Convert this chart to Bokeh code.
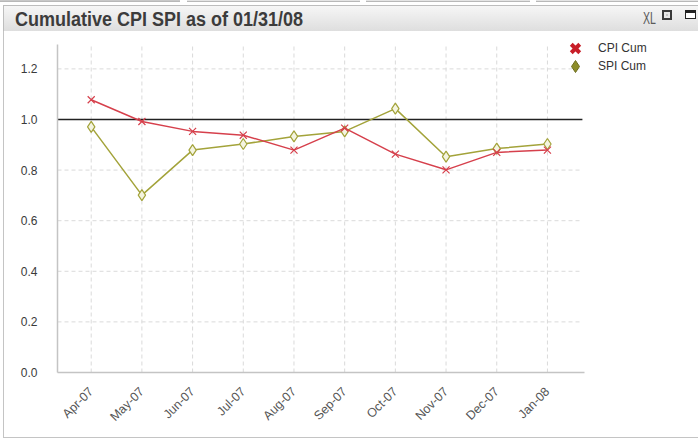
import math
from bokeh.plotting import figure
from bokeh.models import (ColumnDataSource, Range1d, FixedTicker, Legend, LegendItem, Div)
from bokeh.layouts import column
from bokeh.embed import file_html
from bokeh.resources import INLINE

# ---- data ----
months = ["Apr-07", "May-07", "Jun-07", "Jul-07", "Aug-07", "Sep-07", "Oct-07", "Nov-07", "Dec-07", "Jan-08"]
cpi_cum = [1.078, 0.992, 0.953, 0.938, 0.879, 0.966, 0.863, 0.801, 0.870, 0.879]
spi_cum = [0.971, 0.701, 0.879, 0.903, 0.933, 0.953, 1.043, 0.853, 0.885, 0.903]
y_ticks = [0.0, 0.2, 0.4, 0.6, 0.8, 1.0, 1.2]
title_text = "Cumulative CPI SPI as of 01/31/08"

CPI_COLOR = "#d6404c"
SPI_COLOR = "#a3a33a"
FONT = "Liberation Sans"

X_START, X_AXIS_END, X_GRID_END, X_END = -0.665, 9.73, 9.69, 11.27
Y_AXIS_END, Y_END = 1.295, 1.328

idx = list(range(len(months)))
src = ColumnDataSource(dict(x=idx, cpi=cpi_cum, spi=spi_cum))

tab = ('<div style="position:absolute;top:0;left:{l}px;width:{w}px;height:2px;'
       'background:{c};border-bottom:1px solid #b8b8b8;"></div>')
title_html = (
    '<div style="position:relative;width:698px;height:31px;overflow:hidden;">'
    + tab.format(l=0, w=180, c="#c8c8c8")
    + tab.format(l=187, w=173, c="#e4e4e4")
    + tab.format(l=366, w=164, c="#e4e4e4")
    + tab.format(l=536, w=170, c="#e4e4e4")
    + '<div style="position:absolute;top:5px;left:3px;width:700px;height:27px;box-sizing:border-box;'
    'background:linear-gradient(#f6f6f6,#dedede);border:1px solid #bdbdbd;">'
    '<span style="position:absolute;left:11px;top:0;display:inline-block;white-space:nowrap;'
    'font-family:\'Liberation Sans\',Arial,sans-serif;font-size:20px;font-weight:bold;color:#3c3c3c;'
    'line-height:27px;transform:scaleX(0.9);transform-origin:0 0;">' + title_text + '</span>'
    '<span style="position:absolute;left:639px;top:0;font-family:\'Liberation Sans\',Arial,sans-serif;'
    'font-size:17px;color:#5a5a5a;line-height:25px;display:inline-block;transform:scaleX(0.62);'
    'transform-origin:0 0;">XL</span>'
    '<span style="position:absolute;left:658px;top:4px;width:10px;height:10px;border:2px solid #3a3a3a;'
    'background:#c4c4c4;box-shadow:inset 0 0 0 2px #e6e6e6;"></span>'
    '<span style="position:absolute;left:681px;top:4px;width:11px;height:9px;border:1px solid #222;'
    'border-top:3px solid #222;background:#fff;"></span>'
    '</div></div>'
    '<div style="position:fixed;left:3px;top:31px;width:720px;height:407px;z-index:10;'
    'border-left:1px solid #c4c4c4;border-bottom:1px solid #c4c4c4;pointer-events:none;"></div>'
)
header = Div(text=title_html, width=698, height=31, margin=(0, 0, 0, 0))

p = figure(width=698, height=410, output_backend="svg", toolbar_location=None,
           x_range=Range1d(X_START, X_END), y_range=Range1d(0, Y_END),
           min_border_left=57, min_border_right=36, min_border_top=5, min_border_bottom=69,
           margin=(0, 0, 0, 0))
p.outline_line_color = None
p.background_fill_color = "white"
p.border_fill_color = "white"
p.border_fill_alpha = 0.0

# axes
p.xaxis.ticker = FixedTicker(ticks=idx)
p.xaxis.major_label_overrides = {i: m for i, m in enumerate(months)}
p.xaxis.major_label_orientation = math.pi / 4
p.xaxis.bounds = (X_START, X_AXIS_END)
p.yaxis.ticker = FixedTicker(ticks=y_ticks)
p.yaxis.major_label_overrides = {t: f"{t:.1f}" for t in y_ticks}
p.yaxis.bounds = (0, Y_AXIS_END)
for ax in (p.xaxis[0], p.yaxis[0]):
    ax.axis_line_color = "#c4c4c4"
    ax.axis_line_width = 1.5
    ax.major_tick_line_color = None
    ax.minor_tick_line_color = None
    ax.major_label_text_font = FONT
    ax.major_label_text_font_size = "12px"
p.yaxis.major_label_text_color = "#3a3a3a"
p.xaxis.major_label_text_color = "#555555"
p.xaxis.major_label_text_font_size = "12.5px"
p.yaxis.major_label_standoff = 14
p.xaxis.major_label_standoff = 11

# grid lines drawn only across the data area
p.xgrid.grid_line_color = None
p.ygrid.grid_line_color = None
p.segment(x0=idx, x1=idx, y0=0, y1=Y_AXIS_END,
          line_color="#dadada", line_dash="4 3", line_width=1)
p.segment(x0=X_START, x1=X_GRID_END, y0=y_ticks[1:], y1=y_ticks[1:],
          line_color="#dadada", line_dash="4 3", line_width=1)

# reference line at 1.0
p.segment(x0=X_START, x1=X_GRID_END, y0=1.0, y1=1.0, line_color="#222222", line_width=1.5)

# series
p.line("x", "spi", source=src, line_color=SPI_COLOR, line_width=1.5)
p.scatter("x", "spi", source=src, marker="diamond", size=11, fill_color="#f4f4e0",
          line_color=SPI_COLOR, line_width=1.2)
p.line("x", "cpi", source=src, line_color=CPI_COLOR, line_width=1.5)
p.scatter("x", "cpi", source=src, marker="x", size=10, line_color=CPI_COLOR, line_width=1.2)

# legend-only glyphs (NaN point, never drawn in the plot)
empty = ColumnDataSource(dict(x=[float("nan")], y=[float("nan")]))
lg_cpi = p.scatter("x", "y", source=empty, marker="x", line_color="#c81e28", line_width=4)
lg_spi = p.scatter("x", "y", source=empty, marker="diamond", fill_color="#8c8c28",
                   line_color="#6e6e20", line_width=1)

legend_style = dict(orientation="vertical", background_fill_alpha=0, border_line_color=None,
                    label_text_font=FONT, label_text_font_size="12px", label_text_color="#333333",
                    glyph_width=30, glyph_height=30, label_standoff=8, spacing=0, padding=0,
                    margin=0, label_height=30)
p.add_layout(Legend(items=[LegendItem(label="CPI Cum", renderers=[lg_cpi])],
                    location=(503, 309), **legend_style), "center")
p.add_layout(Legend(items=[LegendItem(label="SPI Cum", renderers=[lg_spi])],
                    location=(503, 291), **legend_style), "center")

layout = column(header, p, spacing=0)
open("out.html", "w").write(file_html(layout, INLINE))
